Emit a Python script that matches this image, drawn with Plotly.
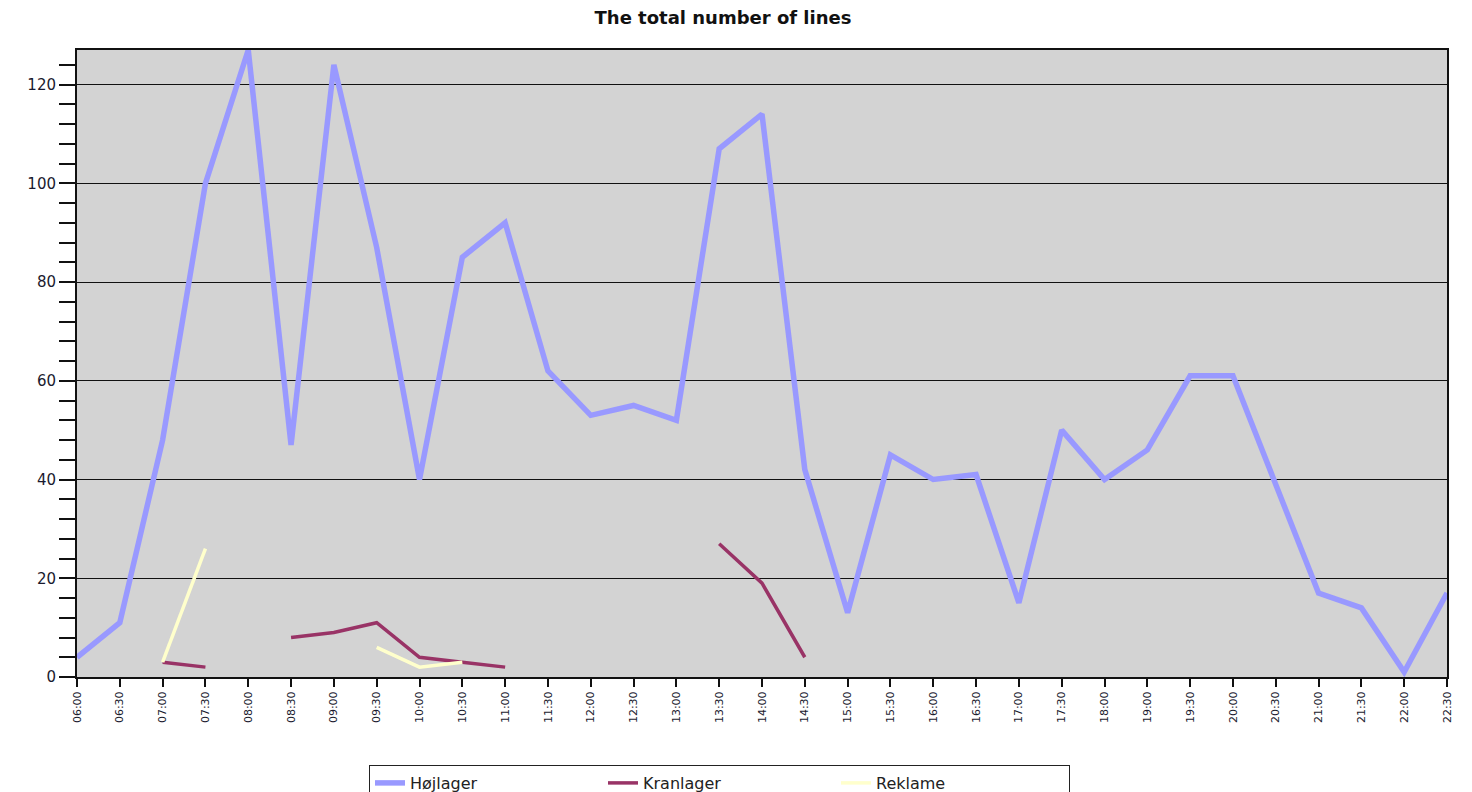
import plotly.graph_objects as go

times = ["06:00", "06:30", "07:00", "07:30", "08:00", "08:30", "09:00", "09:30",
         "10:00", "10:30", "11:00", "11:30", "12:00", "12:30", "13:00", "13:30",
         "14:00", "14:30", "15:00", "15:30", "16:00", "16:30", "17:00", "17:30",
         "18:00", "19:00", "19:30", "20:00", "20:30", "21:00", "21:30", "22:00", "22:30"]

hojlager = [4, 11, 48, 100, 127, 47, 124, 87, 40, 85, 92, 62, 53, 55, 52, 107,
            114, 42, 13, 45, 40, 41, 15, 50, 40, 46, 61, 61, 39, 17, 14, 1, 17]

kranlager = [None, None, 3, 2, None, 8, 9, 11, 4, 3, 2, None, None, None, None, 27,
             19, 4, None, None, None, None, None, None, None, None, None, None, None,
             None, None, None, None]

reklame = [None, None, 3, 26, None, None, None, 6, 2, 3, None, None, None, None, None,
           None, None, None, None, None, None, None, None, None, None, None, None, None,
           None, None, None, None, None]

FONT = "DejaVu Sans, Arial, sans-serif"

fig = go.Figure()
fig.add_trace(go.Scatter(x=times, y=hojlager, name="Højlager", mode="lines",
                         line=dict(color="#9999FF", width=5.5), connectgaps=False))
fig.add_trace(go.Scatter(x=times, y=kranlager, name="Kranlager", mode="lines",
                         line=dict(color="#993366", width=3.5), connectgaps=False))
fig.add_trace(go.Scatter(x=times, y=reklame, name="Reklame", mode="lines",
                         line=dict(color="#FFFFCC", width=3.5), connectgaps=False))

W, H = 1472, 792
fig.update_layout(
    width=W, height=H,
    margin=dict(l=69, r=33, t=42, b=123, autoexpand=False),
    paper_bgcolor="white",
    plot_bgcolor="#D3D3D3",
    title=dict(text="<b>The total number of lines</b>", xref="container",
               x=715 / W, xanchor="center",
               y=1 - 10 / H, yanchor="middle",
               font=dict(family=FONT, size=18, color="#111111")),
    font=dict(family=FONT, color="#1a1a2e"),
    showlegend=True,
    legend=dict(orientation="h", xref="container", yref="container",
                x=361 / W, xanchor="left", y=1 - 757 / H, yanchor="top",
                bgcolor="white", bordercolor="#222222", borderwidth=1,
                font=dict(family=FONT, size=16, color="#222222"),
                entrywidth=188),
)

fig.update_xaxes(
    type="category", range=[0, 32],
    showgrid=False, zeroline=False,
    showline=True, linecolor="#111111", linewidth=2, mirror=True,
    ticks="outside", ticklen=8, tickwidth=2, tickcolor="#111111",
    tickangle=-90,
    tickfont=dict(family=FONT, size=11, color="#1a1a2e"),
)
fig.update_yaxes(
    range=[0, 127], dtick=20, tick0=0,
    showgrid=True, gridcolor="#111111", gridwidth=1,
    zeroline=False,
    showline=True, linecolor="#111111", linewidth=2, mirror=True,
    ticks="outside", ticklen=16, tickwidth=1.5, tickcolor="#111111",
    tickfont=dict(family=FONT, size=15, color="#1a1a2e"),
    minor=dict(dtick=4, ticks="outside", ticklen=16, tickwidth=1.5,
               tickcolor="#111111", showgrid=False),
)

fig.write_html("out.html")
